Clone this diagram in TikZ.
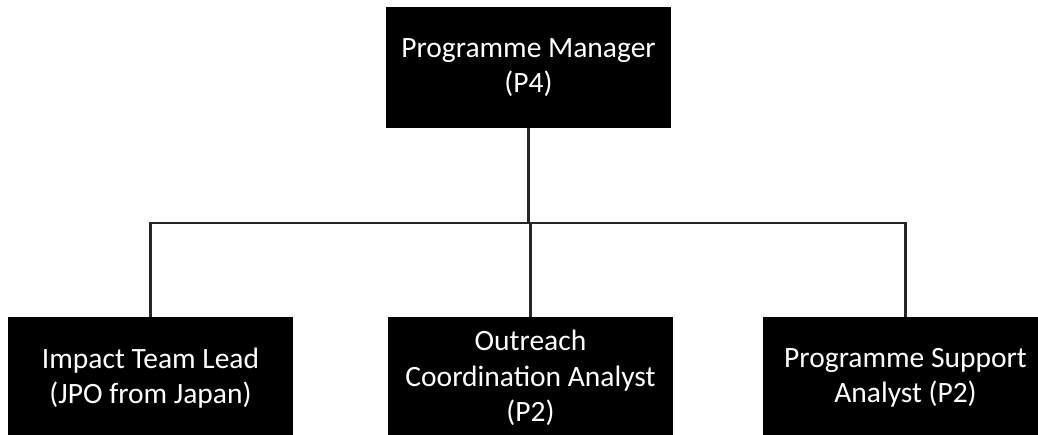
\documentclass[tikz,border=0pt]{standalone}
\usepackage{fontspec}
\setmainfont{Carlito}
\begin{document}
\begin{tikzpicture}[x=1pt,y=1pt,
  post/.style={fill=black, text=white, draw=none, minimum width=285pt,
    align=center, inner sep=0pt,
    font=\fontsize{29.5pt}{35.5pt}\selectfont},
  link/.style={draw=black!85, line width=2.4pt}]
  \useasboundingbox (0,0) rectangle (1038,434);
  \begin{scope}
    \clip (0,0) rectangle (1038,434);
    % head of programme
    \node[post, minimum height=121pt] (pm) at (528.5,366.5)
      {Programme Manager\\(P4)};
    % team members
    \node[post, minimum height=122pt] (itl) at (150.5,56)
      {Impact Team Lead\\(JPO from Japan)};
    \node[post, minimum height=122pt] (oca) at (530.5,56)
      {Outreach\\Coordination Analyst\\(P2)};
    \node[post, minimum height=122pt] (psa) at (905.5,56)
      {Programme Support\\Analyst (P2)};
    % reporting lines
    \coordinate (bus) at (0,211);
    \draw[link] (pm.south) -- (pm.south |- bus);
    \draw[link] (itl.north) -- (itl.north |- bus) -- (psa.north |- bus) -- (psa.north);
    \draw[link] (oca.north |- bus) -- (oca.north);
  \end{scope}
\end{tikzpicture}
\end{document}
